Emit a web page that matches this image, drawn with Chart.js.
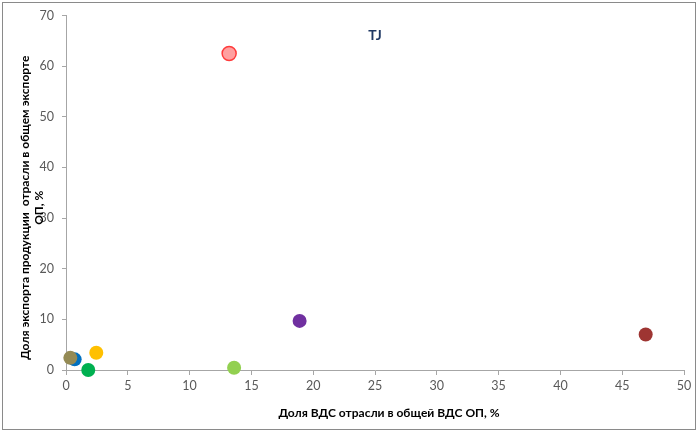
<!DOCTYPE html>
<html>
<head>
<meta charset="utf-8">
<script src="https://cdn.jsdelivr.net/npm/chart.js@4.4.1/dist/chart.umd.min.js"></script>
<style>
  body { margin: 0; background: #fff; }
  #wrap { position: relative; width: 698px; height: 432px; }
</style>
</head>
<body>
<div id="wrap"><canvas id="TJChart" width="698" height="432"></canvas></div>
<script>
// points, one per sector
var sectorNames = ['s1', 's2', 's3', 's4', 's5', 's6', 's7', 's8'];
var vdsShare    = [13.2, 18.9, 46.9, 13.6, 2.45, 1.8, 0.35, 0.7];
var exportShare = [62.5, 9.7,  7.0,  0.45, 3.4,  0.0, 2.4,  2.1];
var pointColors = ['#FF3B3B', '#7030A0', '#9E3532', '#92D050', '#FFC000', '#00B050', '#948A54', '#0070C0'];
var xTicks = [0, 50, 5];
var yTicks = [0, 70, 10];
var chartTag = 'TJ';
var xTitle = 'Доля ВДС отрасли в общей ВДС ОП, %';
var yTitle = ['Доля экспорта продукции  отрасли в общем экспорте', 'ОП, %'];

var FONT = 'Lato, "Open Sans", sans-serif';

var sets = [];
for (var i = 0; i < vdsShare.length; i++) {
	var first = (i == 0);
	sets.push({
		label: sectorNames[i],
		data: [{ x: vdsShare[i], y: exportShare[i] }],
		backgroundColor: first ? 'rgba(255,120,120,0.7)' : pointColors[i],
		borderColor: pointColors[i],
		borderWidth: first ? 1.5 : 0,
		pointRadius: 7,
		pointHoverRadius: 7,
		clip: false
	});
}

//frame + texts drawn by hand
var decor = {
	id: 'decor',
	beforeDraw: function (chart) {
		var c = chart.ctx;
		c.save();
		c.fillStyle = '#fff';
		c.fillRect(0, 0, chart.width, chart.height);
		c.strokeStyle = '#8a8a8a';
		c.lineWidth = 1;
		c.strokeRect(2.5, 2.5, chart.width - 5, chart.height - 5);
		c.restore();
	},
	afterDraw: function (chart) {
		var c = chart.ctx, xs = chart.scales.x, ys = chart.scales.y;
		c.save();
		c.fillStyle = '#1F3864';
		c.font = 'bold 14px ' + FONT;
		c.textAlign = 'center';
		c.textBaseline = 'middle';
		c.fillText(chartTag, xs.getPixelForValue(25), ys.getPixelForValue(66));

		c.fillStyle = '#000';
		c.font = 'bold 12px ' + FONT;
		c.fillText(xTitle, (xs.left + xs.right) / 2 + 14, 413);

		c.translate(25, (ys.top + ys.bottom) / 2 + 15);
		c.rotate(-Math.PI / 2);
		c.fillText(yTitle[0], 0, 0);
		c.fillText(yTitle[1], 0, 14);
		c.restore();
	}
};

new Chart('TJChart', {
	type: 'scatter',
	data: { datasets: sets },
	plugins: [decor],
	options: {
		responsive: false,
		animation: false,
		layout: { padding: { left: 0, right: 14, top: 13, bottom: 0 } },
		plugins: { legend: { display: false }, tooltip: { enabled: false } },
		scales: {
			x: {
				min: xTicks[0], max: xTicks[1],
				afterFit: function (s) { s.height = 62; },
				ticks: { stepSize: xTicks[2], color: '#595959', font: { family: FONT, size: 12.5 }, padding: 3, maxRotation: 0 },
				grid: { drawOnChartArea: false, tickLength: 5, color: '#a6a6a6' },
				border: { color: '#a6a6a6' }
			},
			y: {
				min: yTicks[0], max: yTicks[1],
				afterFit: function (s) { s.width = 66; },
				ticks: { stepSize: yTicks[2], color: '#595959', font: { family: FONT, size: 12.5 }, padding: 8 },
				grid: { drawOnChartArea: false, tickLength: 4, color: '#a6a6a6' },
				border: { color: '#a6a6a6' }
			}
		}
	}
});
</script>
</body>
</html>
